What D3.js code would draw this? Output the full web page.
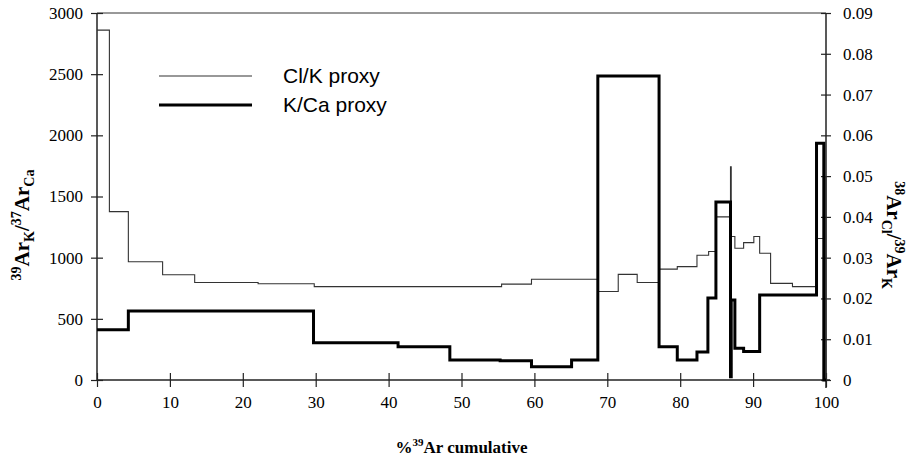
<!DOCTYPE html>
<html>
<head>
<meta charset="utf-8">
<script src="https://cdn.jsdelivr.net/npm/d3@7/dist/d3.min.js"></script>
<style>
html,body{margin:0;padding:0;background:#fff;}
svg{display:block;}
</style>
</head>
<body>
<svg id="chart" width="915" height="465"></svg>
<script>
// ---- data ----
const xTicks = [0,10,20,30,40,50,60,70,80,90,100];
const yLeftTicks = [0,500,1000,1500,2000,2500,3000];
const yRightTicks = [0,0.01,0.02,0.03,0.04,0.05,0.06,0.07,0.08,0.09];
const yRightLabels = ["0","0.01","0.02","0.03","0.04","0.05","0.06","0.07","0.08","0.09"];

// K/Ca proxy (left axis): step boundaries (% 39Ar cumulative) and step values
const kcaEdges = [0,4.3,29.7,41.3,48.4,55.3,59.6,65.1,68.7,77.1,79.6,82.3,83.8,84.9,86.9,87.0,87.5,88.7,90.9,98.7,99.7,100];
const kcaValues = [410,564,305,272,163,158,109,163,2485,272,163,229,670,1455,27,654,259,232,695,1935,0];

// Cl/K proxy (right axis): step boundaries and step values
const clkEdges = [0,1.7,4.3,9.0,13.4,22.1,29.8,55.5,59.6,68.7,71.5,74.1,77.1,79.6,82.3,83.9,84.9,86.9,87.0,87.5,88.7,90.1,90.9,92.4,95.4,98.7,99.7,100];
const clkValues = [0.0858,0.0413,0.0290,0.0258,0.0239,0.0236,0.0229,0.0235,0.0247,0.0217,0.0259,0.0239,0.0272,0.0278,0.0306,0.0315,0.0400,0.0523,0.0352,0.0323,0.0337,0.0352,0.0311,0.0237,0.0229,0.0347,0.0499];

const legendLabels = ["Cl/K proxy","K/Ca proxy"];

// ---- layout ----
const L = 97, R = 826, T = 13, B = 380;
const serif = "'Liberation Serif','Times New Roman',serif";
const svg = d3.select("#chart");
const x = d3.scaleLinear().domain([0,100]).range([L,R]);
const yL = d3.scaleLinear().domain([0,3000]).range([B,T]);
const yR = d3.scaleLinear().domain([0,0.09]).range([B,T]);

function stepPts(edges, vals, endToZero){
  const pts = vals.map((v,i)=>({x:edges[i], v:v}));
  pts.push({x:edges[edges.length-1], v:vals[vals.length-1]});
  if(endToZero) pts.push({x:edges[edges.length-1], v:0});
  return pts;
}

// frame top line
svg.append("line").attr("x1",L).attr("x2",R).attr("y1",T).attr("y2",T)
  .attr("stroke","#333").attr("stroke-width",1);

// axes
const gx = svg.append("g").attr("transform",`translate(0,${B})`)
  .call(d3.axisBottom(x).tickValues(xTicks).tickSize(7).tickPadding(9).tickFormat(d3.format("d")));
gx.selectAll(".tick line").attr("y1",-7);
const gl = svg.append("g").attr("transform",`translate(${L},0)`)
  .call(d3.axisLeft(yL).tickValues(yLeftTicks).tickSize(6).tickPadding(8).tickFormat(d3.format("d")));
gl.selectAll(".tick line").attr("x1",6);
const gr = svg.append("g").attr("transform",`translate(${R},0)`)
  .call(d3.axisRight(yR).tickValues(yRightTicks).tickSize(5).tickPadding(12).tickFormat((d,i)=>yRightLabels[i]));
gr.selectAll(".tick line").attr("x1",-5);
[gx,gl,gr].forEach(g=>{
  g.attr("font-family",serif).attr("font-size",17);
  g.selectAll(".tick text").attr("fill","#000");
  g.select(".domain").attr("stroke","#222").attr("stroke-width",1.5);
  g.selectAll(".tick line").attr("stroke","#222").attr("stroke-width",1.2);
});
gx.select(".domain").attr("d",`M${L},0H${R+4}`);
gl.select(".domain").attr("d",`M0,${B}V${T}`);
gr.select(".domain").attr("d",`M0,${B+8}V${T}`);

// lines
const lineL = d3.line().x(d=>x(d.x)).y(d=>yL(d.v)).curve(d3.curveStepAfter);
const lineR = d3.line().x(d=>x(d.x)).y(d=>yR(d.v)).curve(d3.curveStepAfter);

svg.append("path").datum(stepPts(clkEdges, clkValues, true))
  .attr("d",lineR).attr("fill","none").attr("stroke","#333").attr("stroke-width",1.1);
svg.append("path").datum(stepPts(kcaEdges, kcaValues, false))
  .attr("d",lineL).attr("fill","none").attr("stroke","#000").attr("stroke-width",3)
  .attr("stroke-linejoin","miter");

// legend
const lg = svg.append("g");
[0,1].forEach(i=>{
  const yy = 76 + i*29;
  lg.append("line").attr("x1",159).attr("x2",252).attr("y1",yy).attr("y2",yy)
    .attr("stroke", i===0?"#333":"#000").attr("stroke-width", i===0?1.2:3.2);
  lg.append("text").attr("x",283).attr("y",yy+7).text(legendLabels[i])
    .attr("font-family","'Liberation Sans',Arial,sans-serif").attr("font-size",21).attr("fill","#000");
});

// axis titles
const xt = svg.append("text").attr("x",(L+R)/2).attr("y",453).attr("text-anchor","middle")
  .attr("font-family",serif).attr("font-weight","bold").attr("font-size",17);
xt.append("tspan").text("%");
xt.append("tspan").attr("font-size",11).attr("dy",-7).text("39");
xt.append("tspan").attr("dy",7).text("Ar cumulative");

function ratioTitle(g, parts){
  const t = g.append("text").attr("text-anchor","middle")
    .attr("font-family",serif).attr("font-weight","bold").attr("font-size",21);
  let cur = 0;
  parts.forEach(p=>{
    const shift = p[1]==="sup" ? -8 : p[1]==="sub" ? 5 : 0;
    const ts = t.append("tspan").text(p[0]).attr("dy", shift-cur);
    if(p[1]!=="n") ts.attr("font-size",14);
    cur = shift;
  });
  return t;
}
const lt = svg.append("g").attr("transform","translate(29,225) rotate(-90)");
ratioTitle(lt, [["39","sup"],["Ar","n"],["K","sub"],["/","n"],["37","sup"],["Ar","n"],["Ca","sub"]]);
const rt = svg.append("g").attr("transform","translate(887,235) rotate(90)");
ratioTitle(rt, [["38","sup"],["Ar","n"],["Cl","sub"],["/","n"],["39","sup"],["Ar","n"],["K","sub"]]);
</script>
</body>
</html>
